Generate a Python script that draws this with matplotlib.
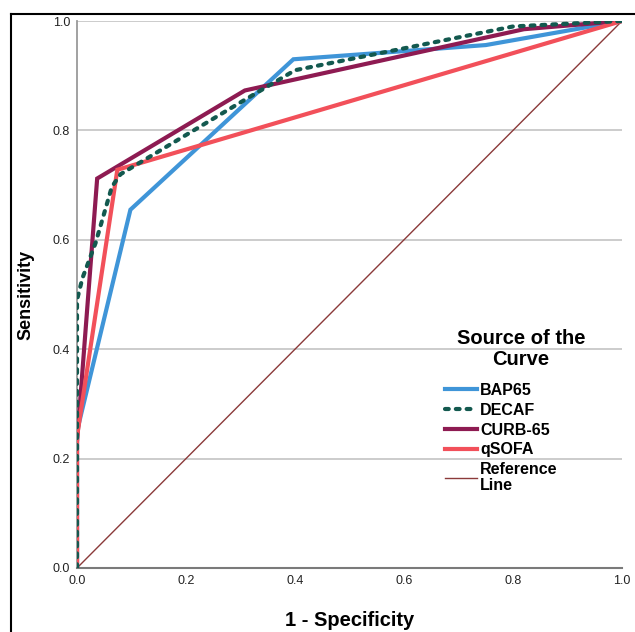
import matplotlib
matplotlib.use("Agg")
import matplotlib.pyplot as plt
from matplotlib.lines import Line2D

plt.rcParams['font.family'] = ['Liberation Sans', 'DejaVu Sans']

# ROC curve data (1 - Specificity, Sensitivity)
bap65_x = [0.0, 0.0, 0.098, 0.397, 0.75, 1.0]
bap65_y = [0.0, 0.25, 0.655, 0.930, 0.956, 1.0]

decaf_x = [0.0, 0.0, 0.01, 0.034, 0.064, 0.08, 0.308, 0.40, 0.80, 1.0]
decaf_y = [0.0, 0.49, 0.53, 0.594, 0.697, 0.72, 0.856, 0.91, 0.99, 1.0]

curb65_x = [0.0, 0.0, 0.037, 0.308, 0.82, 1.0]
curb65_y = [0.0, 0.23, 0.712, 0.873, 0.985, 1.0]

qsofa_x = [0.0, 0.0, 0.074, 1.0]
qsofa_y = [0.0, 0.24, 0.728, 1.0]

ref_x = [0.0, 1.0]
ref_y = [0.0, 1.0]

series_labels = ["BAP65", "DECAF", "CURB-65", "qSOFA", "Reference\nLine"]
legend_title = "Source of the\nCurve"
ticks = [0.0, 0.2, 0.4, 0.6, 0.8, 1.0]
tick_labels = ["0.0", "0.2", "0.4", "0.6", "0.8", "1.0"]

W, H = 635, 632
fig = plt.figure(figsize=(W / 100, H / 100), dpi=100)
ax = fig.add_axes([77/W, 1 - 568/H, 545/W, 547/H])

lw = 3.0
ax.plot(bap65_x, bap65_y, color="#3F95D8", lw=lw, label=series_labels[0], solid_joinstyle='miter', zorder=3)
ax.plot(decaf_x, decaf_y, color="#13594F", lw=lw, ls=(0, (0.9, 1.7)), dash_capstyle='round',
        label=series_labels[1], zorder=4)
ax.plot(curb65_x, curb65_y, color="#8E1B52", lw=lw, label=series_labels[2], solid_joinstyle='miter', zorder=3)
ax.plot(qsofa_x, qsofa_y, color="#F2505A", lw=lw, label=series_labels[3], solid_joinstyle='miter', zorder=3)
ax.plot(ref_x, ref_y, color="#8B3A3A", lw=1.0, label=series_labels[4], zorder=2)

ax.set_xlim(0, 1)
ax.set_ylim(0, 1)
ax.set_xticks(ticks)
ax.set_xticklabels(tick_labels)
ax.set_yticks(ticks)
ax.set_yticklabels(tick_labels)
ax.tick_params(length=0, labelsize=9, colors="#222222", pad=5)
ax.yaxis.grid(True, color="#C8C8C8", lw=1.3)
ax.set_axisbelow(True)
for s in ["top", "right"]:
    ax.spines[s].set_visible(False)
ax.spines["left"].set_color("#9A9A9A")
ax.spines["bottom"].set_color("#7A7A7A")
ax.spines["left"].set_linewidth(1.3)
ax.spines["bottom"].set_linewidth(1.5)

ax.set_xlabel("1 - Specificity", fontsize=14.5, fontweight="bold", labelpad=17)
ax.set_ylabel("Sensitivity", fontsize=13, fontweight="bold", labelpad=13)

leg = ax.legend(loc="upper left", bbox_to_anchor=(445/W, 1 - 383/H),
                bbox_transform=fig.transFigure, frameon=False,
                prop={"weight": "bold", "size": 11.5},
                handlelength=2.0, handletextpad=0.2, labelspacing=0.3,
                borderpad=0.0, borderaxespad=0.0)
leg.get_texts()[4].set_linespacing(1.05)

fig.text(521/W, 1 - 349/H, legend_title, ha="center", va="center", fontsize=14.5,
         fontweight="bold", linespacing=1.1, multialignment="center")

# outer frame lines (top and left)
fig.add_artist(Line2D([11/W, 1.0], [1 - 14/H, 1 - 14/H], transform=fig.transFigure, color="black", lw=1.5))
fig.add_artist(Line2D([11/W, 11/W], [0.0, 1 - 14/H], transform=fig.transFigure, color="black", lw=1.5))

fig.savefig("out.png", dpi=100)
